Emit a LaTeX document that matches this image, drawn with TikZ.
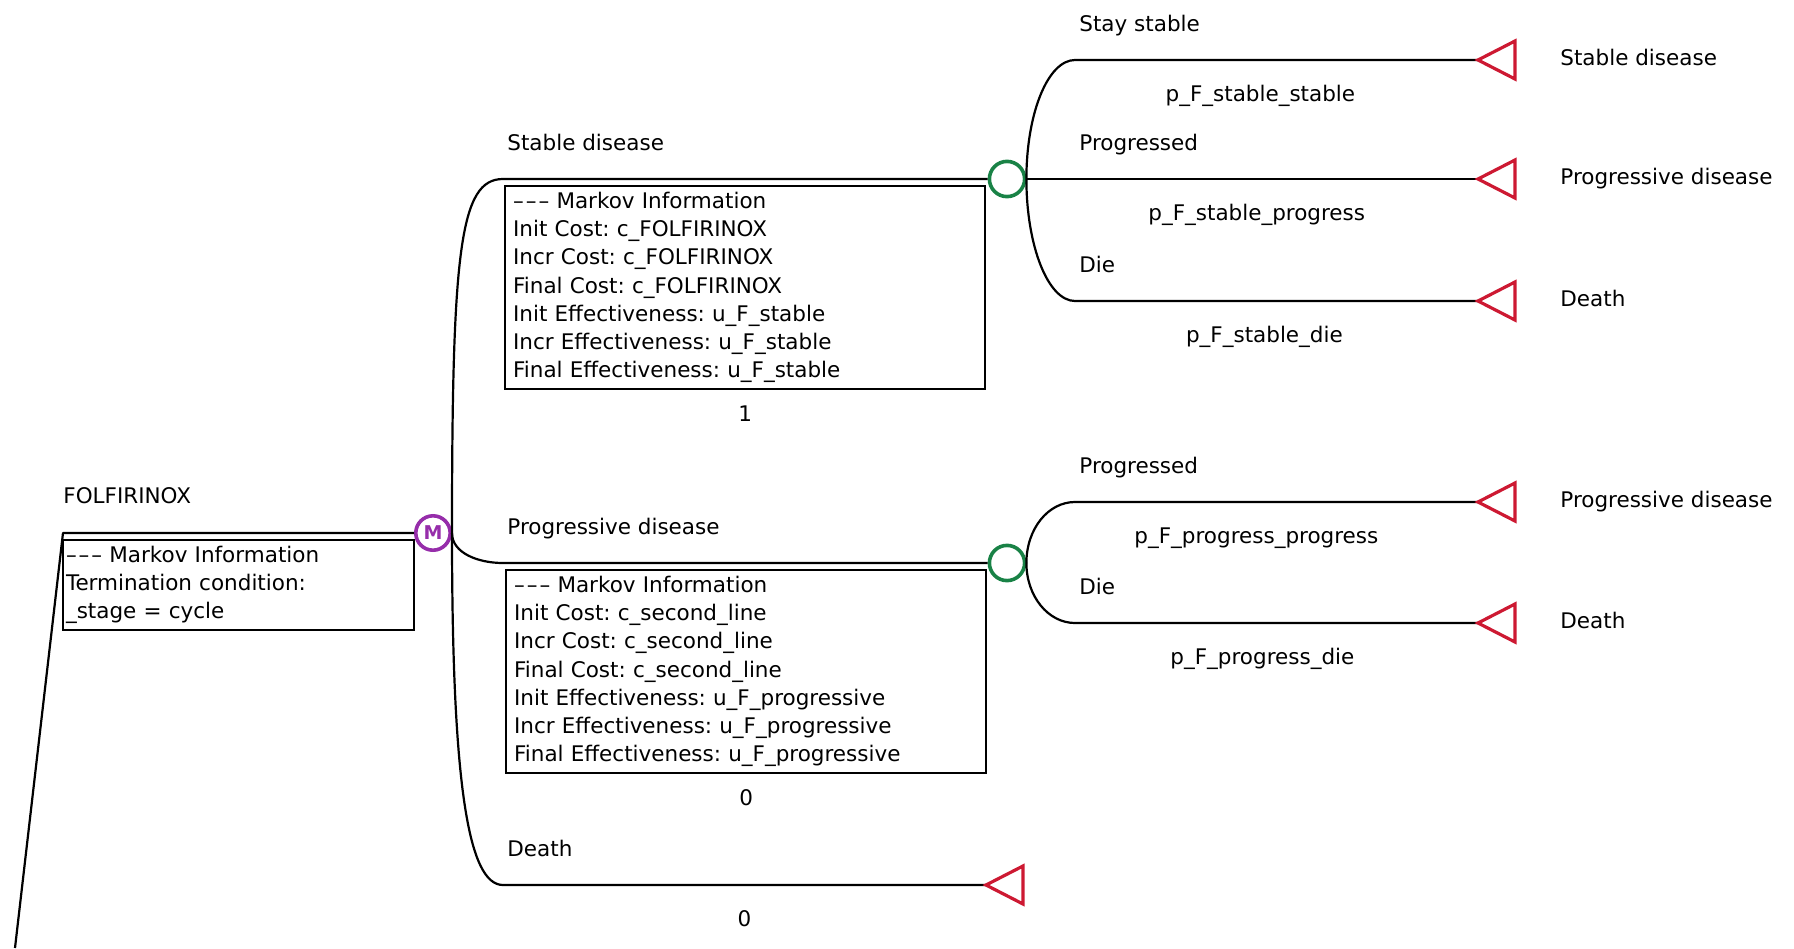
\documentclass[tikz,border=0pt]{standalone}
\usepackage{fontspec}
\setmainfont{DejaVu Sans}
\usepackage{xcolor}
\usepackage{tikz}
\usetikzlibrary{positioning}

\definecolor{markovpurple}{RGB}{150,45,170}
\definecolor{chancegreen}{RGB}{25,130,70}
\definecolor{termred}{RGB}{205,25,50}
\newcommand{\mkvdash}{\textendash\kern1pt\textendash\kern1pt\textendash}
\frenchspacing

\tikzset{
  branch/.style={line width=1.1pt, line join=round},
  lbl/.style={font=\fontsize{10.75}{14.1}\selectfont, inner sep=2pt, text height=8.2pt, text depth=2.6pt},
  prob/.style={lbl, below=10pt},
  mbox/.style={draw, line width=1.1pt, align=left, text width=232pt, inner xsep=4pt, inner ysep=3pt, minimum height=101pt, font=\fontsize{10.75}{14.1}\selectfont},
  markov/.style={circle, draw=markovpurple, line width=1.8pt, minimum size=17.2pt, inner sep=0pt, text=markovpurple, font=\fontsize{9.5}{9.5}\selectfont\bfseries},
  chance/.style={circle, draw=chancegreen, line width=1.8pt, minimum size=17.6pt, inner sep=0pt},
  term/.style={draw=termred, line width=1.6pt}
}

\begin{document}
\begin{tikzpicture}[x=0.5pt, y=-0.5pt]
\useasboundingbox (0,0) rectangle (1794,948);

\coordinate (root) at (15,948);
\coordinate (fA) at (63,533);
\node (mk) [markov] at (433,533) {M};
\draw [branch] (root) -- (fA) -- (mk);
\node (fLbl) [lbl, above right=10pt and -2pt of fA] {FOLFIRINOX};
\node (fBox) [mbox, text width=172.5pt, inner xsep=1.5pt, minimum height=45pt, below right=2.9pt and -0.55pt of fA] {\mkvdash{} Markov Information\\Termination condition:\\\_stage = cycle};

\coordinate (sdA) at (503,179);
\node (c1) [chance] at (1007,179) {};
\draw [branch] (mk.east) .. controls +(0,-283) and +(-43,0) .. (sdA) -- (c1);
\node (sdLbl) [lbl, above right=9.5pt and 0pt of sdA] {Stable disease};
\node (sdBox) [mbox, below right=3pt and 0.5pt of sdA] {\mkvdash{} Markov Information\\Init Cost: c\_FOLFIRINOX\\Incr Cost: c\_FOLFIRINOX\\Final Cost: c\_FOLFIRINOX\\Init Effectiveness: u\_F\_stable\\Incr Effectiveness: u\_F\_stable\\Final Effectiveness: u\_F\_stable};
\node (sdVal) [lbl, below=5.5pt of sdBox] {1};

\coordinate (pdA) at (503,563);
\node (c2) [chance] at (1007,563) {};
\draw [branch] (mk.east) .. controls +(0,20) and +(-25,0) .. (pdA) -- (c2);
\node (pdLbl) [lbl, above right=9.5pt and 0pt of pdA] {Progressive disease};
\node (pdBox) [mbox, below right=3pt and 1pt of pdA] {\mkvdash{} Markov Information\\Init Cost: c\_second\_line\\Incr Cost: c\_second\_line\\Final Cost: c\_second\_line\\Init Effectiveness: u\_F\_progressive\\Incr Effectiveness: u\_F\_progressive\\Final Effectiveness: u\_F\_progressive};
\node (pdVal) [lbl, below=5.5pt of pdBox] {0};

\coordinate (dA) at (503,885);
\coordinate (t6) at (986,885);
\draw [branch] (mk.east) .. controls +(0,250) and +(-35,0) .. (dA) -- (t6) node (dVal) [prob, pos=0.5] {0};
\node (dLbl) [lbl, above right=9.5pt and 0pt of dA] {Death};

\coordinate (ssA) at (1075,60);
\coordinate (spA) at (1075,179);
\coordinate (sxA) at (1075,301);
\coordinate (t1) at (1478,60);
\coordinate (t2) at (1478,179);
\coordinate (t3) at (1478,301);
\draw [branch] (c1.east) .. controls +(0,-66) and +(-27,0) .. (ssA) -- (t1) node (ssP) [prob, pos=0.46] {p\_F\_stable\_stable};
\draw [branch] (c1) -- (t2) node (spP) [prob, pos=0.51] {p\_F\_stable\_progress};
\draw [branch] (c1.east) .. controls +(0,67) and +(-27,0) .. (sxA) -- (t3) node (sxP) [prob, pos=0.47] {p\_F\_stable\_die};
\node (ssLbl) [lbl, above right=9.5pt and 0pt of ssA] {Stay stable};
\node (spLbl) [lbl, above right=9.5pt and 0pt of spA] {Progressed};
\node (sxLbl) [lbl, above right=9.5pt and 0pt of sxA] {Die};

\coordinate (ppA) at (1075,502);
\coordinate (pxA) at (1075,623);
\coordinate (t4) at (1478,502);
\coordinate (t5) at (1478,623);
\draw [branch] (c2.east) .. controls +(0,-34) and +(-27,0) .. (ppA) -- (t4) node (ppP) [prob, pos=0.45] {p\_F\_progress\_progress};
\draw [branch] (c2.east) .. controls +(0,33) and +(-27,0) .. (pxA) -- (t5) node (pxP) [prob, pos=0.465] {p\_F\_progress\_die};
\node (ppLbl) [lbl, above right=9.5pt and 0pt of ppA] {Progressed};
\node (pxLbl) [lbl, above right=9.5pt and 0pt of pxA] {Die};

\draw [term] (t1) -- ++(37,-19) -- ++(0,38) -- cycle;
\draw [term] (t2) -- ++(37,-19) -- ++(0,38) -- cycle;
\draw [term] (t3) -- ++(37,-19) -- ++(0,38) -- cycle;
\draw [term] (t4) -- ++(37,-19) -- ++(0,38) -- cycle;
\draw [term] (t5) -- ++(37,-19) -- ++(0,38) -- cycle;
\draw [term] (t6) -- ++(37,-19) -- ++(0,38) -- cycle;

\node (e1) [lbl, right=39pt of t1] {Stable disease};
\node (e2) [lbl, right=39pt of t2] {Progressive disease};
\node (e3) [lbl, right=39pt of t3] {Death};
\node (e4) [lbl, right=39pt of t4] {Progressive disease};
\node (e5) [lbl, right=39pt of t5] {Death};
\end{tikzpicture}
\end{document}
